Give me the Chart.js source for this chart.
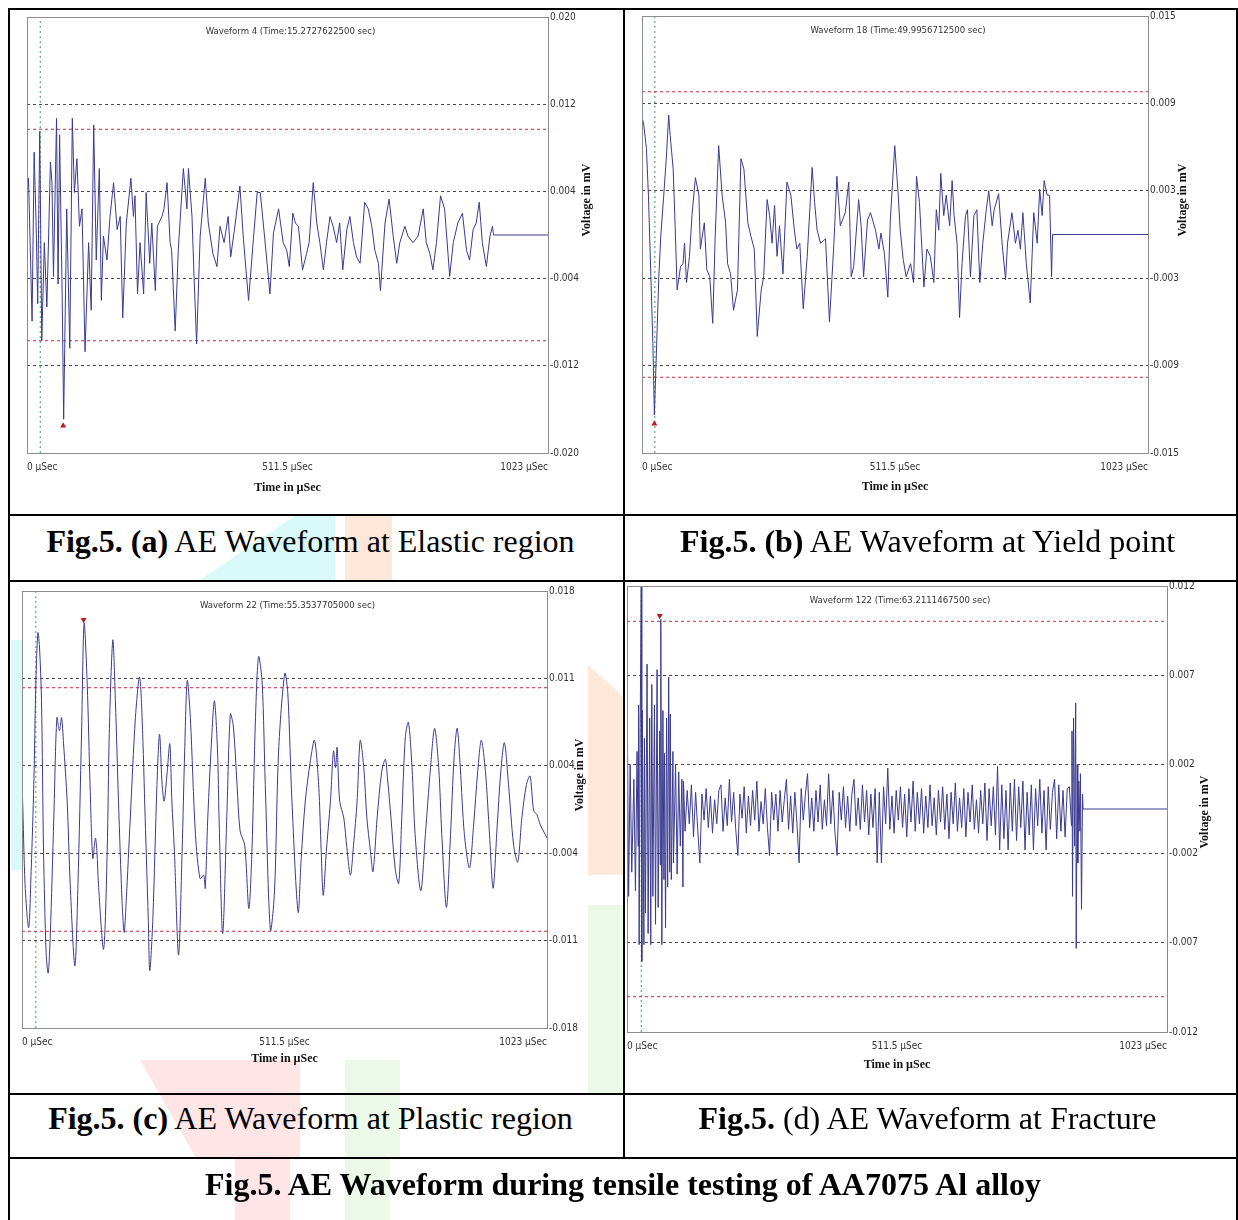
<!DOCTYPE html>
<html>
<head>
<meta charset="utf-8">
<title>AE Waveform during tensile testing of AA7075 Al alloy</title>
<script src="https://cdn.jsdelivr.net/npm/chart.js@4.4.1/dist/chart.umd.min.js"></script>
<style>
  body { margin: 0; background: #fff; }
  #sheet { position: relative; width: 1238px; height: 1220px; overflow: hidden;
           font-family: 'Liberation Serif', 'Times New Roman', serif; background: #fff; }
  .wm { position: absolute; }
  .rule { position: absolute; background: #000; }
  .panel { position: absolute; }
  .cap { position: absolute; text-align: center; font-size: 32px; line-height: 32px;
         color: #000; white-space: nowrap; }
</style>
</head>
<body>
<div id="sheet">
  <!-- faint watermark pieces behind the table -->
  <div class="wm" style="left:200px;top:516px;width:135px;height:64px;background:#dafafa;clip-path:polygon(70% 0,100% 0,100% 100%,0 100%)"></div>
  <div class="wm" style="left:345px;top:516px;width:47px;height:64px;background:#ffe8da"></div>
  <div class="wm" style="left:11px;top:640px;width:11px;height:230px;background:#dafafa"></div>
  <div class="wm" style="left:588px;top:665px;width:35px;height:210px;background:#ffe8da;clip-path:polygon(0 0,100% 15%,100% 100%,0 100%)"></div>
  <div class="wm" style="left:588px;top:905px;width:35px;height:188px;background:#edf9e8"></div>
  <div class="wm" style="left:140px;top:1060px;width:160px;height:98px;background:#ffe5e5;clip-path:polygon(0 0,100% 0,100% 100%,35% 100%)"></div>
  <div class="wm" style="left:345px;top:1060px;width:55px;height:98px;background:#edf9e8"></div>
  <div class="wm" style="left:235px;top:1159px;width:55px;height:61px;background:#ffe5e5"></div>
  <div class="wm" style="left:345px;top:1159px;width:45px;height:61px;background:#edf9e8"></div>

  <canvas id="chartA" class="panel" width="612" height="504" style="left:11px;top:11px"></canvas>
  <canvas id="chartB" class="panel" width="610" height="504" style="left:626px;top:11px"></canvas>
  <canvas id="chartC" class="panel" width="612" height="510" style="left:11px;top:582px"></canvas>
  <canvas id="chartD" class="panel" width="613" height="510" style="left:623px;top:582px"></canvas>

  <div class="rule" style="left:8px;top:8px;width:1230px;height:2px"></div>
  <div class="rule" style="left:8px;top:8px;width:2px;height:1212px"></div>
  <div class="rule" style="left:1236px;top:8px;width:2px;height:1212px"></div>
  <div class="rule" style="left:623px;top:8px;width:2px;height:1151px"></div>
  <div class="rule" style="left:8px;top:514px;width:1230px;height:2px"></div>
  <div class="rule" style="left:8px;top:580px;width:1230px;height:2px"></div>
  <div class="rule" style="left:8px;top:1093px;width:1230px;height:2px"></div>
  <div class="rule" style="left:8px;top:1157px;width:1230px;height:2px"></div>

  <div class="cap" style="left:4px;width:613px;top:525px"><b>Fig.5. (a)</b> AE Waveform at Elastic region</div>
  <div class="cap" style="left:622px;width:611px;top:525px"><b>Fig.5. (b)</b> AE Waveform at Yield point</div>
  <div class="cap" style="left:4px;width:613px;top:1102px"><b>Fig.5. (c)</b> AE Waveform at Plastic region</div>
  <div class="cap" style="left:622px;width:611px;top:1102px"><b>Fig.5.</b> (d) AE Waveform at Fracture</div>
  <div class="cap" style="left:10px;width:1226px;top:1168px"><b>Fig.5. AE Waveform during tensile testing of AA7075 Al alloy</b></div>
</div>

<script>
// ── Data (time in µSec, voltage in mV) ──
const xTicks = [0, 511.5, 1023];

// (a) Elastic region – Waveform 4
const yTicksA = [-0.020, -0.012, -0.004, 0.004, 0.012, 0.020];
const yLabelsA = ['-0.020', '-0.012', '-0.004', '0.004', '0.012', '0.020'];
const timeA = [1,3,10,14,18,21,25,29,34,39,46,49,52,58,61,64,69,72,78,84,89,93,98,103,108,114,121,126,131,136,
  142,146,150,157,163,170,177,183,188,195,204,209,212,217,222,229,234,241,245,252,256,265,269,275,281,284,291,297,
  307,314,317,324,328,333,340,350,356,365,373,379,387,395,400,409,418,425,435,445,452,458,467,477,484,494,503,510,
  515,522,527,533,541,549,554,562,569,575,582,588,595,601,608,614,620,628,634,641,647,654,663,670,677,683,690,694,
  703,711,719,726,732,742,748,758,768,778,784,791,797,804,812,820,830,837,846,855,863,869,876,882,888,894,902,909,
  914,916,1023];
const voltA = [0.0042,0.0052,-0.0079,0.0076,0.0008,-0.0063,0.0095,-0.0097,-0.0007,-0.0066,0.0067,0.0048,-0.0038,
  0.0107,-0.0045,0.0092,-0.0054,-0.0169,0.0024,-0.0104,0.0107,0.0039,0.0070,0.0008,0.0024,-0.0107,-0.0007,-0.0069,
  0.0101,-0.0023,0.0061,-0.0060,-0.0001,-0.0023,0.0017,0.0048,0.0005,0.0017,-0.0076,0.0011,0.0052,0.0017,0.0036,
  -0.0054,-0.0007,-0.0054,0.0039,-0.0026,0.0011,-0.0051,0.0008,0.0017,0.0024,0.0048,-0.0007,-0.0014,-0.0088,-0.0014,
  0.0061,0.0024,0.0061,0.0017,-0.0038,-0.0100,-0.0001,0.0052,0.0011,-0.0017,-0.0029,0.0008,-0.0007,0.0017,-0.0020,
  0.0011,0.0045,-0.0004,-0.0060,-0.0001,0.0039,0.0039,-0.0004,-0.0054,0.0002,0.0024,-0.0007,-0.0014,-0.0029,0.0020,
  0.0011,0.0008,-0.0032,-0.0017,-0.0007,0.0048,0.0011,-0.0007,-0.0032,-0.0007,0.0017,0.0008,-0.0007,0.0011,-0.0032,
  0.0005,0.0017,-0.0007,-0.0020,-0.0026,0.0030,0.0024,0.0008,-0.0014,-0.0026,-0.0051,0.0011,0.0033,-0.0001,-0.0026,
  -0.0007,0.0008,-0.0001,-0.0007,-0.0001,0.0024,-0.0007,-0.0017,-0.0032,-0.0007,0.0036,0.0024,-0.0038,-0.0007,0.0011,
  0.0020,-0.0014,-0.0023,0.0005,0.0011,0.0030,-0.0007,-0.0029,-0.0001,0.0008,0,0];

// (b) Yield point – Waveform 18
const yTicksB = [-0.015, -0.009, -0.003, 0.003, 0.009, 0.015];
const yLabelsB = ['-0.015', '-0.009', '-0.003', '0.003', '0.009', '0.015'];
const timeB = [0,3,9,13,18,22,25,29,34,38,44,49,54,57,63,67,71,78,83,86,90,96,101,108,115,118,126,131,137,143,148,
  155,162,169,173,179,185,193,200,206,214,220,227,233,241,246,253,258,263,268,273,278,285,293,301,308,313,319,326,
  334,344,349,354,361,371,379,388,394,401,411,418,423,428,438,443,448,456,462,472,479,483,490,497,502,511,518,522,
  528,534,543,549,555,561,570,576,583,590,595,600,604,610,615,622,627,631,637,642,647,654,658,664,671,677,683,689,
  696,701,708,712,721,728,735,739,748,755,760,765,770,777,785,792,799,804,809,813,819,824,828,830,1023];
const voltB = [0.0080,0.0077,0.0059,0.0027,-0.0029,-0.0075,-0.0124,-0.0082,-0.0029,-0.0001,0.0027,0.0052,0.0082,
  0.0068,0.0045,0.0006,-0.0038,-0.0022,-0.0020,-0.0006,-0.0033,-0.0015,0.0013,0.0039,0.0027,-0.0010,0.0008,-0.0024,
  -0.0029,-0.0061,-0.0001,0.0061,0.0027,0.0008,-0.0020,-0.0027,-0.0052,-0.0038,0.0052,0.0045,0.0008,-0.0001,-0.0010,
  -0.0070,-0.0038,-0.0029,0.0024,0.0013,-0.0006,0.0020,-0.0015,0.0006,-0.0027,0.0036,0.0027,0.0003,-0.0010,-0.0006,
  -0.0051,-0.0015,0.0046,0.0022,0.0003,-0.0006,-0.0003,-0.0060,-0.0006,0.0040,0.0006,0.0015,0.0036,-0.0029,-0.0022,
  0.0024,0.0006,-0.0029,0.0010,0.0015,0.0003,-0.0010,0.0001,-0.0013,-0.0043,0.0010,0.0061,0.0027,0.0003,-0.0017,
  -0.0029,-0.0020,-0.0033,0.0040,0.0022,-0.0036,-0.0010,-0.0015,-0.0033,0.0017,0.0003,0.0042,0.0013,0.0027,0.0006,
  0.0037,0.0013,-0.0006,-0.0057,-0.0020,0.0013,0.0017,-0.0029,0.0013,0.0017,-0.0033,-0.0006,0.0017,0.0030,0.0006,
  0.0017,0.0028,-0.0006,-0.0031,-0.0006,0.0015,-0.0006,0.0003,-0.0010,0.0015,-0.0020,-0.0047,0.0015,-0.0006,0.0031,
  0.0013,0.0037,0.0027,0.0027,-0.0029,0,0];

// (c) Plastic region – Waveform 22
const yTicksC = [-0.0183, -0.01098, -0.00366, 0.00366, 0.01098, 0.0183];
const yLabelsC = ['-0.018', '-0.011', '-0.004', '0.004', '0.011', '0.018'];
const timeC = [0,1,6,13,18,23,27,31,34,38,42,47,51,55,62,68,73,77,81,88,94,103,109,116,121,127,133,138,143,146,149,
  159,166,170,177,182,188,195,199,203,211,221,229,234,240,246,249,255,263,268,273,277,283,288,292,297,305,312,317,
  322,328,338,347,354,357,362,370,375,381,384,391,399,406,412,419,425,434,442,448,455,461,468,474,484,492,500,512,
  518,526,538,544,552,562,570,578,583,587,593,601,607,611,614,619,627,633,640,646,653,659,666,672,679,684,692,701,
  708,712,719,727,734,740,747,753,760,766,777,786,796,804,812,818,827,835,842,848,854,862,872,880,888,895,903,911,
  918,926,933,940,948,958,966,974,983,990,997,1003,1010,1016,1023];
const voltC = [0.0015,0.0010,-0.0063,-0.0099,-0.0049,0.0021,0.0106,0.0148,0.0137,0.0091,-0.0035,-0.0120,-0.0137,
  -0.0106,-0.0007,0.0077,0.0066,0.0077,0.0055,0.0007,-0.0063,-0.0131,-0.0063,0.0063,0.0156,0.0106,0.0015,-0.0041,
  -0.0024,-0.0035,-0.0063,-0.0117,-0.0035,0.0063,0.0142,0.0091,0.0007,-0.0077,-0.0103,-0.0077,-0.0007,0.0077,0.0111,
  0.0077,-0.0007,-0.0091,-0.0135,-0.0091,0.0021,0.0063,0.0021,0.0007,0.0032,0.0055,0.0007,-0.0035,-0.0122,-0.0035,
  0.0049,0.0108,0.0077,-0.0021,-0.0058,-0.0055,-0.0066,-0.0007,0.0063,0.0091,0.0049,-0.0007,-0.0104,-0.0007,0.0080,
  0.0069,0.0021,-0.0018,-0.0030,-0.0083,-0.0035,0.0077,0.0128,0.0106,0.0021,-0.0101,-0.0069,0.0049,0.0114,0.0097,
  0.0007,-0.0086,-0.0041,0.0007,0.0041,0.0058,0.0021,-0.0035,-0.0072,-0.0035,0.0007,0.0049,0.0035,0.0052,0.0007,
  -0.0007,-0.0032,-0.0055,-0.0030,0.0007,0.0058,0.0035,-0.0007,-0.0035,-0.0052,-0.0007,0.0032,0.0042,0.0027,-0.0007,
  -0.0049,-0.0062,-0.0007,0.0061,0.0073,0.0035,-0.0021,-0.0068,-0.0021,0.0035,0.0068,0.0035,-0.0021,-0.0082,-0.0021,
  0.0044,0.0068,0.0035,-0.0021,-0.0049,-0.0013,0.0032,0.0058,0.0032,-0.0021,-0.0066,-0.0013,0.0032,0.0056,0.0021,
  -0.0030,-0.0044,-0.0007,0.0021,0.0028,-0.0001,-0.0004,-0.0013,-0.0018,-0.0024];

// (d) Fracture – Waveform 122
const yTicksD = [-0.012, -0.0072, -0.0024, 0.0024, 0.0072, 0.012];
const yLabelsD = ['-0.012', '-0.007', '-0.002', '0.002', '0.007', '0.012'];
const timeD = [0,1,3,6,9,13,16,19,21,22,23,25,27,28,29,32,33,35,38,40,43,45,47,49,52,54,57,59,62,63,64,66,68,70,71,
  73,75,77,79,81,82,84,87,88,92,95,98,101,104,106,107,
  110,114,118,122,126,130,134,138,142,146,150,154,158,162,166,170,174,178,182,186,190,194,198,202,206,210,214,218,
  222,226,230,234,238,242,246,250,254,258,262,266,270,274,278,282,286,290,294,298,302,306,310,314,318,322,326,330,
  334,338,342,346,350,354,358,362,366,370,374,378,382,386,390,394,398,402,406,410,414,418,422,426,430,434,438,442,
  446,450,454,458,462,466,470,474,478,482,486,490,494,498,502,506,510,514,518,522,526,530,534,538,542,546,550,554,
  558,562,566,570,574,578,582,586,590,594,598,602,606,610,614,618,622,626,630,634,638,642,646,650,654,658,662,666,
  670,674,678,682,686,690,694,698,702,706,710,714,718,722,726,730,734,738,742,746,750,754,758,762,766,770,774,778,
  782,786,790,794,798,802,806,810,814,818,822,826,830,834,838,842,
  843,844,846,848,850,851,853,854,856,858,859,861,863,864,1023];
const voltD = [0.0005,0.0035,-0.0047,0.0024,-0.0034,0.0016,-0.0044,0.0031,-0.0020,0.0056,-0.0073,0.0044,0.0122,
  -0.0082,0.0053,-0.0073,0.0038,-0.0056,0.0078,-0.0067,0.0049,-0.0073,0.0067,-0.0047,0.0056,-0.0062,0.0075,-0.0053,
  0.0042,-0.0030,0.0102,-0.0073,0.0053,-0.0038,0.0030,-0.0064,0.0049,-0.0042,0.0071,-0.0034,0.0051,-0.0038,0.0031,
  -0.0029,0.0024,-0.0035,0.0020,-0.0020,0.0016,-0.0042,0.0015,
  -0.0012,0.0010,-0.0008,0.0013,-0.0015,0.0009,-0.0011,-0.0029,0.0008,-0.0006,0.0011,-0.0010,0.0007,-0.0013,0.0005,
  -0.0008,0.0010,0.0013,-0.0012,0.0006,-0.0009,0.0016,-0.0007,0.0009,-0.0011,-0.0025,0.0008,-0.0005,0.0012,-0.0013,
  0.0007,-0.0009,0.0010,-0.0006,0.0015,-0.0012,0.0004,-0.0008,0.0011,-0.0010,-0.0025,0.0009,-0.0006,0.0008,-0.0012,
  0.0010,-0.0007,0.0005,0.0016,-0.0011,0.0007,-0.0013,0.0009,-0.0008,-0.0029,0.0011,-0.0006,0.0008,0.0019,-0.0010,
  0.0006,-0.0012,0.0010,-0.0007,0.0013,-0.0011,0.0005,-0.0009,0.0019,-0.0008,0.0010,-0.0013,-0.0025,0.0009,-0.0006,
  0.0012,-0.0010,0.0007,-0.0012,0.0008,0.0016,-0.0009,0.0006,-0.0011,0.0013,-0.0007,0.0010,-0.0014,0.0008,-0.0010,
  0.0011,-0.0029,0.0009,-0.0029,0.0012,-0.0008,0.0022,-0.0011,0.0007,-0.0013,0.0010,-0.0006,0.0012,-0.0010,0.0008,
  -0.0015,0.0011,-0.0007,0.0015,-0.0012,0.0009,-0.0008,0.0011,-0.0013,0.0007,-0.0010,0.0013,-0.0009,0.0006,-0.0014,
  0.0010,-0.0007,0.0012,-0.0011,0.0008,-0.0016,0.0009,-0.0008,0.0014,-0.0012,0.0006,-0.0010,0.0011,-0.0015,0.0009,
  -0.0007,0.0013,-0.0011,0.0005,-0.0013,0.0010,-0.0008,0.0014,-0.0017,0.0011,-0.0009,0.0012,-0.0014,0.0023,-0.0022,
  0.0013,-0.0016,0.0010,-0.0022,0.0014,-0.0012,0.0016,-0.0017,0.0012,-0.0010,0.0015,-0.0022,0.0009,-0.0014,0.0013,
  -0.0022,0.0011,-0.0009,0.0016,-0.0013,0.0010,-0.0022,0.0012,-0.0011,0.0009,0.0016,-0.0016,0.0013,-0.0012,0.0010,
  -0.0015,0.0011,0.0012,-0.0009,
  0.0042,-0.0047,0.0049,-0.0020,0.0057,-0.0075,0.0024,-0.0029,0.0015,-0.0012,0.0019,-0.0054,0.0008,0,0];

// threshold (±), trigger time and peak marker for each waveform
const thresholds = { A: 0.0097, B: 0.0098, C: 0.0102, D: 0.0101 };
const triggers = { A: 26, B: 26, C: 27, D: 27 };
const peakMarks = { A: [71, -0.0175], B: [25, -0.0130], C: [120, 0.0159], D: [62, 0.0104] };

(function () {
  'use strict';

  const TRACE = '#3a3a90';
  const RED = '#cc2a40';
  const GREEN = '#3a9c66';
  const GRID = '#4a4a4a';
  const NARROW = "'Liberation Sans Narrow', 'Arial Narrow', 'DejaVu Sans Condensed', sans-serif";
  const TICK_FONT = { family: NARROW, size: 10 };

  const pairs = (xs, ys) => xs.map((x, i) => ({ x, y: ys[i] }));

  // ── Frame, inner heading and the bottom-to-top voltage title ──
  const panelDeco = {
    id: 'panelDeco',
    afterDraw(chart, args, opts) {
      const { ctx, chartArea: a } = chart;
      ctx.save();
      ctx.strokeStyle = '#8c8c8c';
      ctx.lineWidth = 1;
      ctx.strokeRect(Math.round(a.left) + 0.5, Math.round(a.top) + 0.5,
        Math.round(a.right - a.left), Math.round(a.bottom - a.top));

      ctx.fillStyle = '#333';
      ctx.font = '9.5px ' + NARROW;
      ctx.textAlign = 'center';
      ctx.textBaseline = 'middle';
      ctx.fillText(opts.heading, (a.left + a.right) / 2 + 3, a.top + 15);

      ctx.translate(opts.sideX, opts.sideY);
      ctx.rotate(-Math.PI / 2);
      ctx.font = "bold 12px 'Liberation Serif', 'Times New Roman', serif";
      ctx.fillStyle = '#111';
      ctx.fillText('Voltage in mV', 0, 0);
      ctx.restore();
    }
  };

  function renderPanel(id, p) {
    const yMax = p.yTicks[p.yTicks.length - 1];
    const mark = p.mark;
    new Chart(document.getElementById(id), {
      type: 'line',
      data: {
        datasets: [
          { data: pairs(p.time, p.volt), borderColor: TRACE, borderWidth: 1, pointRadius: 0, tension: p.tension },
          { data: [{ x: mark[0], y: mark[1] }], showLine: false, pointStyle: 'triangle', pointRadius: 3.5,
            pointRotation: mark[1] > 0 ? 180 : 0, backgroundColor: '#c01820', borderColor: '#c01820', borderWidth: 0 },
          { data: [{ x: 0, y: p.th }, { x: 1023, y: p.th }], borderColor: RED, borderWidth: 1, borderDash: [3, 3], pointRadius: 0 },
          { data: [{ x: 0, y: -p.th }, { x: 1023, y: -p.th }], borderColor: RED, borderWidth: 1, borderDash: [3, 3], pointRadius: 0 },
          { data: [{ x: p.trig, y: -yMax }, { x: p.trig, y: yMax }], borderColor: GREEN, borderWidth: 1, borderDash: [2, 3], pointRadius: 0 }
        ]
      },
      options: {
        responsive: false,
        animation: false,
        devicePixelRatio: 1,
        layout: { padding: { left: p.padLeft, top: p.padTop, right: 0, bottom: 0 } },
        plugins: {
          legend: { display: false },
          tooltip: { enabled: false },
          panelDeco: { heading: p.heading, sideX: p.sideX, sideY: p.sideY }
        },
        scales: {
          x: {
            type: 'linear', min: 0, max: 1023,
            afterBuildTicks: s => { s.ticks = xTicks.map(v => ({ value: v })); },
            afterFit: s => { s.height = p.bottomH; s.paddingLeft = 0; s.paddingRight = 0; },
            ticks: { callback: v => v + ' µSec', align: 'inner', maxRotation: 0, autoSkip: false,
                     padding: 8, color: '#333', font: TICK_FONT },
            grid: { display: false, drawTicks: false },
            border: { display: false },
            title: { display: true, text: 'Time in µSec', color: '#111',
                     font: { family: "'Liberation Serif', 'Times New Roman', serif", weight: 'bold', size: 12 },
                     padding: { top: 0, bottom: p.titlePad } }
          },
          y: {
            type: 'linear', position: 'right', min: -yMax, max: yMax,
            afterBuildTicks: s => { s.ticks = p.yTicks.map(v => ({ value: v })); },
            afterFit: s => { s.width = p.rightW; s.paddingTop = 0; s.paddingBottom = 0; },
            ticks: { callback: (v, i) => p.yLabels[i], autoSkip: false, padding: 2, color: '#333', font: TICK_FONT },
            grid: { color: GRID, lineWidth: 1, drawTicks: false },
            border: { display: false, dash: [3, 3] }
          }
        }
      },
      plugins: [panelDeco]
    });
  }

  window.addEventListener('DOMContentLoaded', () => {
    renderPanel('chartA', {
      time: timeA, volt: voltA, yTicks: yTicksA, yLabels: yLabelsA, th: thresholds.A, trig: triggers.A, mark: peakMarks.A,
      heading: 'Waveform 4 (Time:15.2727622500 sec)', tension: 0,
      padLeft: 16, padTop: 6, rightW: 75, bottomH: 62, titlePad: 20, sideX: 576, sideY: 189
    });
    renderPanel('chartB', {
      time: timeB, volt: voltB, yTicks: yTicksB, yLabels: yLabelsB, th: thresholds.B, trig: triggers.B, mark: peakMarks.B,
      heading: 'Waveform 18 (Time:49.9956712500 sec)', tension: 0,
      padLeft: 16, padTop: 5, rightW: 88, bottomH: 62, titlePad: 21, sideX: 557, sideY: 189
    });
    renderPanel('chartC', {
      time: timeC, volt: voltC, yTicks: yTicksC, yLabels: yLabelsC, th: thresholds.C, trig: triggers.C, mark: peakMarks.C,
      heading: 'Waveform 22 (Time:55.3537705000 sec)', tension: 0.3,
      padLeft: 11, padTop: 9, rightW: 76, bottomH: 64, titlePad: 26, sideX: 569, sideY: 193
    });
    renderPanel('chartD', {
      time: timeD, volt: voltD, yTicks: yTicksD, yLabels: yLabelsD, th: thresholds.D, trig: triggers.D, mark: peakMarks.D,
      heading: 'Waveform 122 (Time:63.2111467500 sec)', tension: 0,
      padLeft: 0, padTop: 4, rightW: 69, bottomH: 60, titlePad: 20, sideX: 582, sideY: 230
    });
  });
})();
</script>
</body>
</html>
